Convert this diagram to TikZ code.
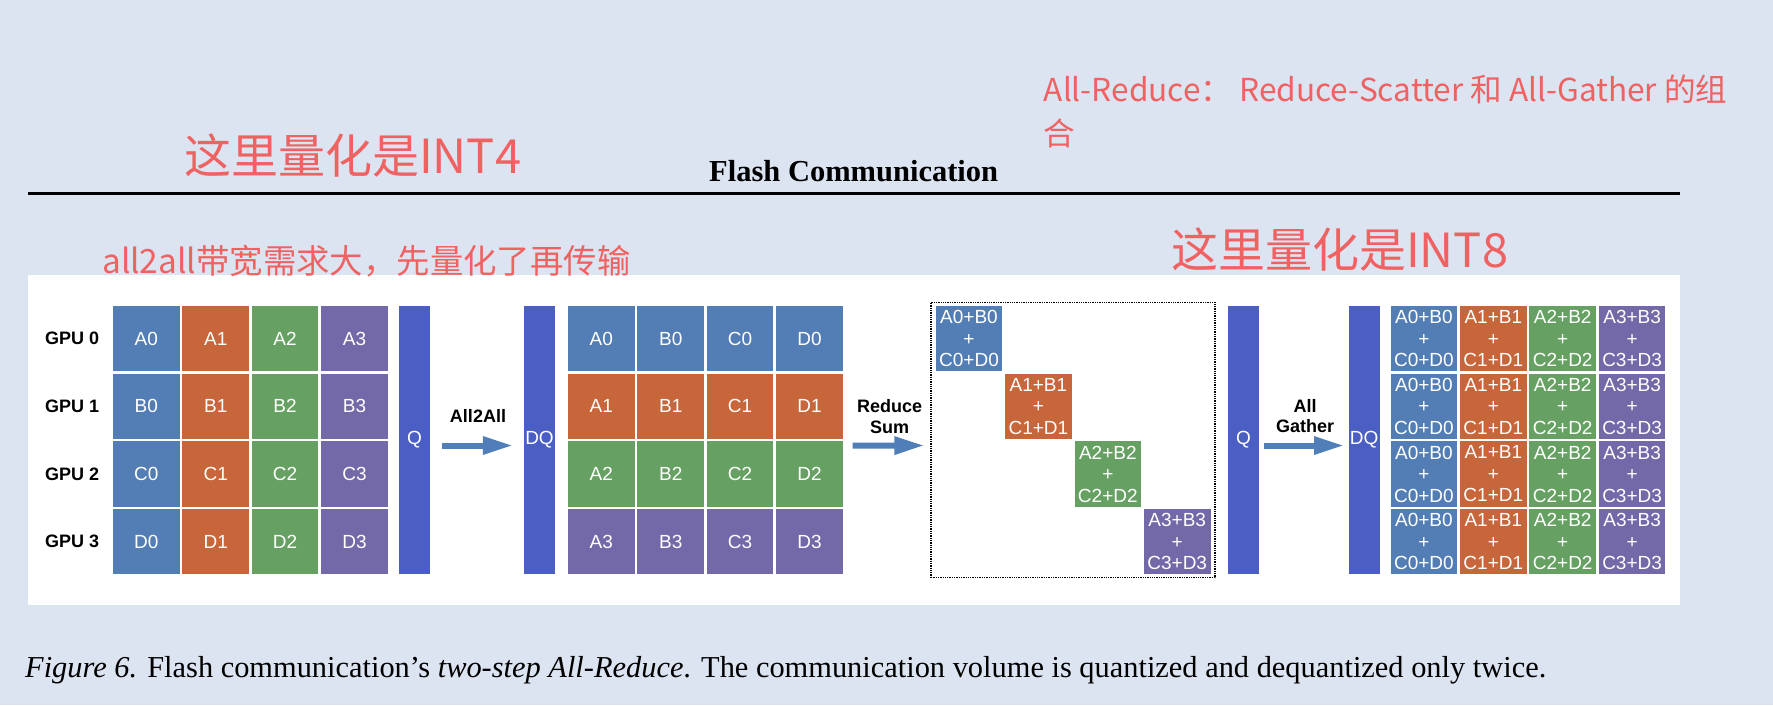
\documentclass[tikz,border=0pt]{standalone}
\usepackage{fontspec}
\setmainfont{Liberation Serif}
\newfontfamily\arialfont{Liberation Sans}
\newfontfamily\cjkfont{Noto Sans CJK SC}
\usetikzlibrary{arrows.meta,positioning}

\definecolor{cellblue}{RGB}{82,125,181}
\definecolor{cellorange}{RGB}{198,102,58}
\definecolor{cellgreen}{RGB}{102,160,98}
\definecolor{cellpurple}{RGB}{115,105,168}
\definecolor{barblue}{RGB}{74,94,196}
\definecolor{arrowblue}{RGB}{79,126,184}
\definecolor{pagebg}{RGB}{220,227,241}
\definecolor{notered}{RGB}{240,98,98}

\tikzset{
  cell/.style={minimum width=66.6pt, minimum height=65.3pt, inner sep=0pt, text=white, align=center, font=\arialfont\fontsize{19}{21.5}\selectfont},
  bar/.style={fill=barblue, minimum width=31pt, minimum height=268pt, inner sep=0pt, text=white, font=\arialfont\fontsize{19}{20}\selectfont},
  gpulabel/.style={inner sep=0pt, font=\arialfont\bfseries\fontsize{18}{20}\selectfont},
  steplabel/.style={inner sep=0pt, align=center, font=\arialfont\bfseries\fontsize{18}{20.7}\selectfont},
  flow/.style={draw=arrowblue, line width=6pt, -{Triangle[length=30pt,width=17pt]}},
  note/.style={text=notered, inner sep=0pt, anchor=base west},
}

\begin{document}
\begin{tikzpicture}[x=1pt, y=-1pt]
  \useasboundingbox (0,0) rectangle (1773,705);
  \fill[pagebg] (0,0) rectangle (1773,705);

  % header
  \node[inner sep=0pt, anchor=base, font=\bfseries\fontsize{30.5}{32}\selectfont] (title) at (853.7,181.7) {Flash Communication};
  \node[fill=black, minimum width=1652.5pt, minimum height=3pt, inner sep=0pt] (rule) at (853.75,193.3) {};
  \node[fill=white, minimum width=1652.5pt, minimum height=330pt, inner sep=0pt] (panel) at (853.75,440) {};

  % red notes
  \node[note, font=\cjkfont\fontsize{47}{50}\selectfont] (int4) at (184,173) {这里量化是INT4};
  \node[note, font=\cjkfont\fontsize{47}{50}\selectfont] (int8) at (1171,267) {这里量化是INT8};
  \node[note, font=\cjkfont\fontsize{33.4}{36}\selectfont] (bw) at (102,273) {all2all带宽需求大，先量化了再传输};
  \node[note, font=\cjkfont\fontsize{31.6}{34}\selectfont] (ar1) at (1043.6,101.7) {All-Reduce： Reduce-Scatter 和 All-Gather 的组};
  \node[note, font=\cjkfont\fontsize{31.6}{34}\selectfont] (ar2) at (1043.6,145) {合};

  % GPU blocks
  \foreach \c/\col in {0/cellblue,1/cellorange,2/cellgreen,3/cellpurple}
    \foreach \r/\L in {0/A,1/B,2/C,3/D}
      \node[cell, fill=\col] (g1-\r-\c) at ({146.3+69.4*\c},{338.6+67.7*\r}) {\L\c};
  \foreach \r in {0,...,3}
    \node[gpulabel, left=13.5pt of g1-\r-0] (gpu\r) {GPU \r};

  \node[bar] (q1) at (414.5,440) {Q};
  \node[bar] (dq1) at (539.5,440) {DQ};
  \draw[flow] ([xshift=11.7pt,yshift=-5.5pt]q1.east) -- ([xshift=-11pt,yshift=-5.5pt]dq1.west);
  \node[steplabel] (l1) at (478,416) {All2All};

  % after all2all
  \foreach \r/\col in {0/cellblue,1/cellorange,2/cellgreen,3/cellpurple}
    \foreach \c/\L in {0/A,1/B,2/C,3/D}
      \node[cell, fill=\col] (g2-\r-\c) at ({601.3+69.4*\c},{338.6+67.7*\r}) {\L\r};

  % reduce sum
  \node[draw, densely dotted, line width=1.3pt, minimum width=284pt, minimum height=275.4pt, inner sep=0pt] (rbox) at (1073,440) {};
  \foreach \c/\col in {0/cellblue,1/cellorange,2/cellgreen,3/cellpurple}
    \node[cell, fill=\col] (d-\c) at ({969+69.4*\c},{338.6+67.7*\c}) {A\c+B\c\\+\\C\c+D\c};
  \draw[flow] ([xshift=9.6pt,yshift=-6.5pt]g2-1-3.south east) -- ([xshift=-6pt,yshift=-5.5pt]rbox.west);
  \node[steplabel] (l2) at (889.7,416.5) {Reduce\\Sum};

  \node[bar] (q2) at (1243.5,440) {Q};
  \node[bar] (dq2) at (1364.2,440) {DQ};
  \draw[flow] ([xshift=5pt,yshift=-5.5pt]q2.east) -- ([xshift=-4.5pt,yshift=-5.5pt]dq2.west);
  \node[steplabel] (l3) at (1305,416) {All\\Gather};

  % all gather
  \foreach \c/\col in {0/cellblue,1/cellorange,2/cellgreen,3/cellpurple}
    \foreach \r in {0,...,3}
      \node[cell, fill=\col] (g4-\r-\c) at ({1423.9+69.4*\c},{338.6+67.7*\r}) {A\c+B\c\\+\\C\c+D\c};

  % caption
  \node[inner sep=0pt, anchor=base west, font=\fontsize{30.4}{32}\selectfont] (cap) at (25,677) {\textit{Figure 6.} Flash communication’s \textit{two-step All-Reduce}. The communication volume is quantized and dequantized only twice.};
\end{tikzpicture}
\end{document}
